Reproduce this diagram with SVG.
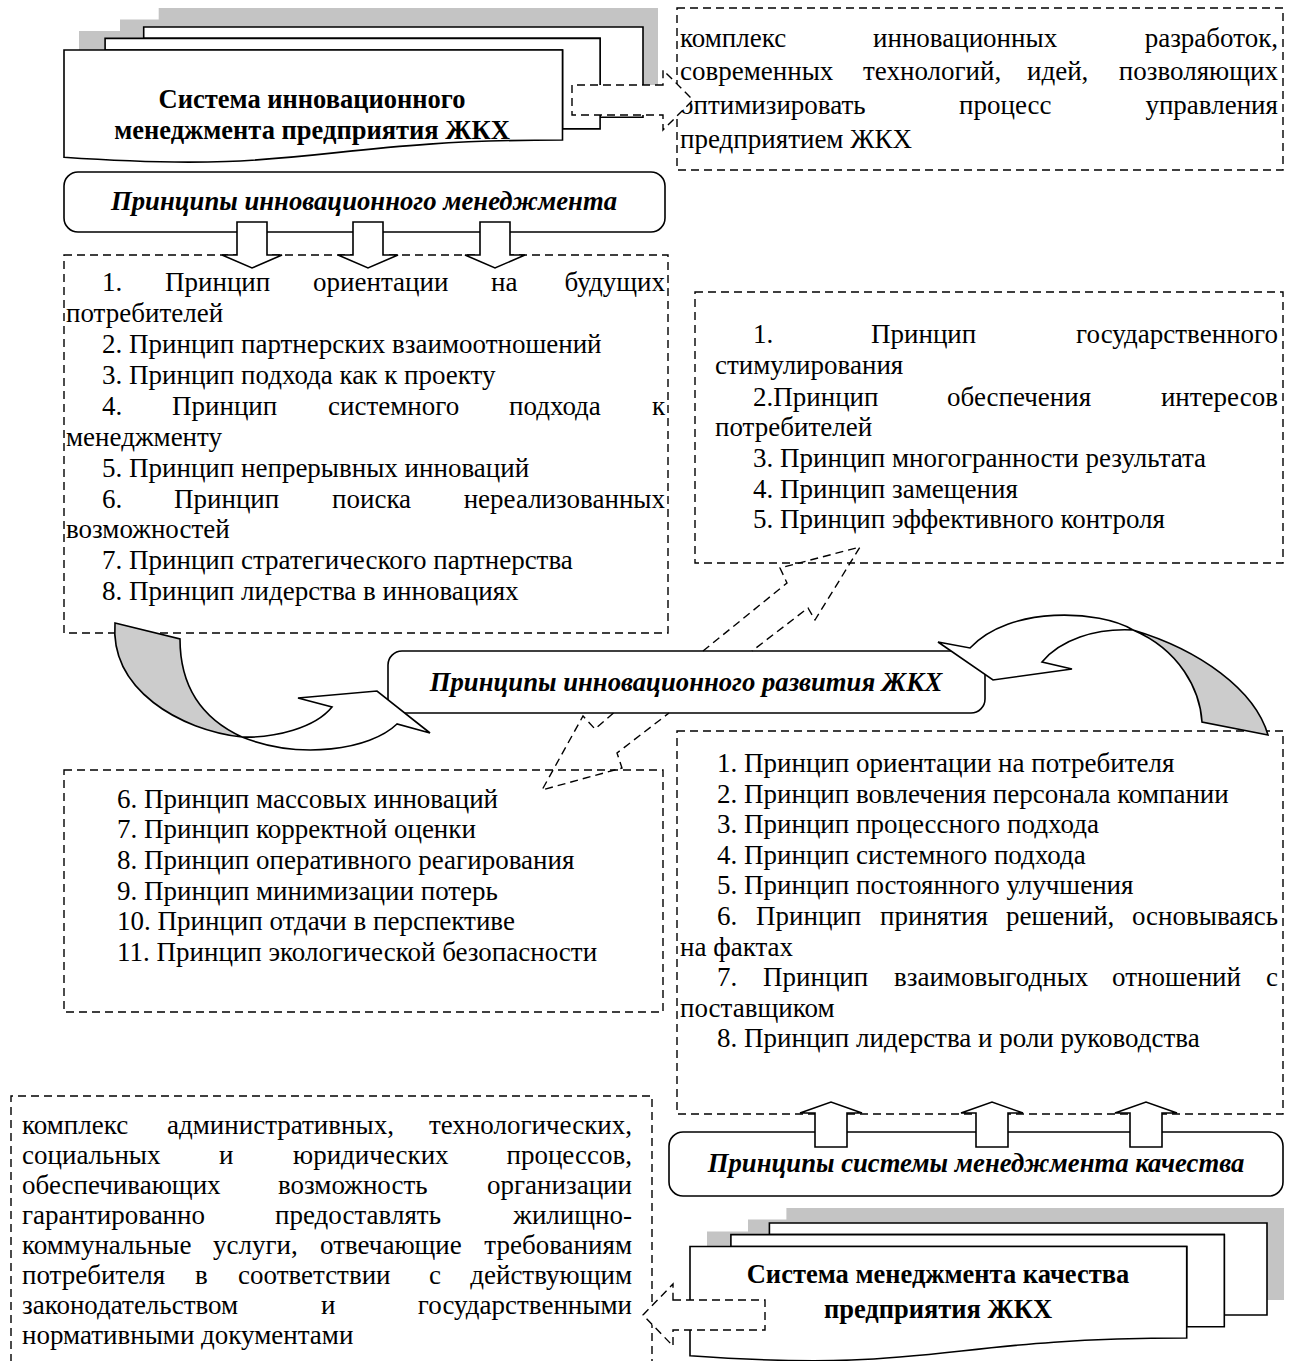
<svg xmlns="http://www.w3.org/2000/svg" width="1299" height="1361" viewBox="0 0 1299 1361">
<style>
.t{font-family:"Liberation Serif","Times New Roman",serif;font-size:27px;fill:#000}
.b{font-family:"Liberation Serif","Times New Roman",serif;font-size:26.5px;font-weight:bold;fill:#000}
.bi{font-family:"Liberation Serif","Times New Roman",serif;font-size:26.7px;font-weight:bold;font-style:italic;fill:#000}
.dash{fill:#fff;stroke:#000;stroke-width:1.4;stroke-dasharray:8 5}
.dashn{fill:none;stroke:#000;stroke-width:1.4;stroke-dasharray:8 5}
.sol{fill:#fff;stroke:#000;stroke-width:1.6}
.shadow{fill:#c4c4c4;stroke:none}
.gray{fill:#cccccc;stroke:#000;stroke-width:1.6}
</style>
<rect width="1299" height="1361" fill="#fff"/>

<g id="doc-innov">
<path class="shadow" d="M79,31 H120 V19.4 H158.7 V8 H658 V98 H615 V110 H577.5 V121 H79 Z"/>
<path class="sol" d="M143.7,38.4 V27 H643 V117.2 H600.1 V38.4 Z"/>
<path class="sol" d="M105.1,50 V38.4 H600.1 V128.9 H562.5 V50 Z"/>
<path class="sol" d="M64,50 H562.5 V140 C313.2,140 313.2,174.6 64,157.3 Z"/>
<text class="b" x="312" y="108" text-anchor="middle">Система инновационного</text>
<text class="b" x="312" y="139" text-anchor="middle">менеджмента предприятия ЖКХ</text>
</g>

<g id="def-innov">
<rect class="dash" x="677" y="8" width="606" height="162"/>
<text class="t" y="47"><tspan x="680">комплекс</tspan><tspan x="873">инновационных</tspan><tspan x="1278" text-anchor="end">разработок,</tspan></text>
<text class="t" y="80"><tspan x="680">современных</tspan><tspan x="863">технологий,</tspan><tspan x="1027">идей,</tspan><tspan x="1278" text-anchor="end">позволяющих</tspan></text>
<text class="t" y="114"><tspan x="680">оптимизировать</tspan><tspan x="959">процесс</tspan><tspan x="1278" text-anchor="end">управления</tspan></text>
<text class="t" x="680" y="148">предприятием ЖКХ</text>
</g>

<g id="title-im">
<rect class="sol" x="64" y="172" width="601" height="60" rx="14"/>
<text class="bi" x="364" y="210" text-anchor="middle">Принципы инновационного менеджмента</text>
</g>

<g id="list-im">
<rect class="dash" x="64" y="255" width="604" height="378"/>
<text class="t" y="291"><tspan x="102">1.</tspan><tspan x="165">Принцип</tspan><tspan x="313">ориентации</tspan><tspan x="491">на</tspan><tspan x="665" text-anchor="end">будущих</tspan></text>
<text class="t" x="66" y="322">потребителей</text>
<text class="t" x="102" y="353">2. Принцип партнерских взаимоотношений</text>
<text class="t" x="102" y="384">3. Принцип подхода как к проекту</text>
<text class="t" y="415"><tspan x="102">4.</tspan><tspan x="172">Принцип</tspan><tspan x="328">системного</tspan><tspan x="509">подхода</tspan><tspan x="665" text-anchor="end">к</tspan></text>
<text class="t" x="66" y="446">менеджменту</text>
<text class="t" x="102" y="477">5. Принцип непрерывных инноваций</text>
<text class="t" y="508"><tspan x="102">6.</tspan><tspan x="174">Принцип</tspan><tspan x="332">поиска</tspan><tspan x="665" text-anchor="end">нереализованных</tspan></text>
<text class="t" x="66" y="538">возможностей</text>
<text class="t" x="102" y="569">7. Принцип стратегического партнерства</text>
<text class="t" x="102" y="600">8. Принцип лидерства в инновациях</text>
</g>

<g id="list-state">
<rect class="dash" x="695" y="292" width="588" height="271"/>
<text class="t" y="343"><tspan x="753">1.</tspan><tspan x="871">Принцип</tspan><tspan x="1278" text-anchor="end">государственного</tspan></text>
<text class="t" x="715" y="374">стимулирования</text>
<text class="t" y="406"><tspan x="753">2.Принцип</tspan><tspan x="947">обеспечения</tspan><tspan x="1278" text-anchor="end">интересов</tspan></text>
<text class="t" x="715" y="436">потребителей</text>
<text class="t" x="753" y="467">3. Принцип многогранности результата</text>
<text class="t" x="753" y="498">4. Принцип замещения</text>
<text class="t" x="753" y="528">5. Принцип эффективного контроля</text>
</g>

<g id="title-dev">
<rect class="sol" x="388" y="651" width="597" height="62" rx="14"/>
<text class="bi" x="686" y="691" text-anchor="middle">Принципы инновационного развития ЖКХ</text>
</g>

<g id="list-dev">
<rect class="dash" x="64" y="770" width="599" height="242"/>
<text class="t" x="117" y="808">6. Принцип массовых инноваций</text>
<text class="t" x="117" y="838">7. Принцип корректной оценки</text>
<text class="t" x="117" y="869">8. Принцип оперативного реагирования</text>
<text class="t" x="117" y="900">9. Принцип минимизации потерь</text>
<text class="t" x="117" y="930">10. Принцип отдачи в перспективе</text>
<text class="t" x="117" y="961">11. Принцип экологической безопасности</text>
</g>

<g id="list-qms">
<rect class="dash" x="677" y="731" width="606" height="383"/>
<text class="t" x="717" y="772">1. Принцип ориентации на потребителя</text>
<text class="t" x="717" y="803">2. Принцип вовлечения персонала компании</text>
<text class="t" x="717" y="833">3. Принцип процессного подхода</text>
<text class="t" x="717" y="864">4. Принцип системного подхода</text>
<text class="t" x="717" y="894">5. Принцип постоянного улучшения</text>
<text class="t" y="925"><tspan x="717">6.</tspan><tspan x="756">Принцип</tspan><tspan x="880">принятия</tspan><tspan x="1006">решений,</tspan><tspan x="1278" text-anchor="end">основываясь</tspan></text>
<text class="t" x="680" y="956">на фактах</text>
<text class="t" y="986"><tspan x="717">7.</tspan><tspan x="763">Принцип</tspan><tspan x="894">взаимовыгодных</tspan><tspan x="1112">отношений</tspan><tspan x="1278" text-anchor="end">с</tspan></text>
<text class="t" x="680" y="1017">поставщиком</text>
<text class="t" x="717" y="1047">8. Принцип лидерства и роли руководства</text>
</g>

<g id="title-qms">
<rect class="sol" x="669" y="1132" width="614" height="64" rx="14"/>
<text class="bi" x="976" y="1172" text-anchor="middle">Принципы системы менеджмента качества</text>
</g>

<g id="def-qms">
<path class="dashn" d="M11,1375 V1096 H652 V1375"/>
<text class="t" y="1134"><tspan x="22">комплекс</tspan><tspan x="167">административных,</tspan><tspan x="632" text-anchor="end">технологических,</tspan></text>
<text class="t" y="1164"><tspan x="22">социальных</tspan><tspan x="219">и</tspan><tspan x="293">юридических</tspan><tspan x="632" text-anchor="end">процессов,</tspan></text>
<text class="t" y="1194"><tspan x="22">обеспечивающих</tspan><tspan x="278">возможность</tspan><tspan x="632" text-anchor="end">организации</tspan></text>
<text class="t" y="1224"><tspan x="22">гарантированно</tspan><tspan x="275">предоставлять</tspan><tspan x="632" text-anchor="end">жилищно-</tspan></text>
<text class="t" y="1254"><tspan x="22">коммунальные</tspan><tspan x="213">услуги,</tspan><tspan x="320">отвечающие</tspan><tspan x="632" text-anchor="end">требованиям</tspan></text>
<text class="t" y="1284"><tspan x="22">потребителя</tspan><tspan x="195">в</tspan><tspan x="238">соответствии</tspan><tspan x="429">с</tspan><tspan x="632" text-anchor="end">действующим</tspan></text>
<text class="t" y="1314"><tspan x="22">законодательством</tspan><tspan x="321">и</tspan><tspan x="632" text-anchor="end">государственными</tspan></text>
<text class="t" x="22" y="1344">нормативными документами</text>
</g>

<g id="doc-qms">
<path class="shadow" d="M707,1231.5 H748 V1219.6 H786.4 V1208 H1284 V1300 H1241.3 V1311.8 H1203.7 V1323 H707 Z"/>
<path class="sol" d="M769.4,1234.6 V1223 H1267 V1315 H1224.3 V1234.6 Z"/>
<path class="sol" d="M730.9,1246.5 V1234.6 H1224.3 V1326.8 H1186.7 V1246.5 Z"/>
<path class="sol" d="M690,1246.5 H1186.7 V1338 C938.4,1338 938.4,1373.4 690,1355.8 Z"/>
<text class="b" x="938" y="1283" text-anchor="middle">Система менеджмента качества</text>
<text class="b" x="938" y="1318" text-anchor="middle">предприятия ЖКХ</text>
</g>

<g id="connectors">
<path class="sol" d="M237,222 H267 V255 H282 L252,268 L222,255 H237 Z"/>
<path class="sol" d="M353,222 H383 V255 H398 L368,268 L338,255 H353 Z"/>
<path class="sol" d="M480,222 H510 V255 H525 L495,268 L465,255 H480 Z"/>
<path class="sol" d="M815,1147 V1113 H800 L831,1102 L862,1113 H847 V1147 Z"/>
<path class="sol" d="M976,1147 V1113 H961 L992,1102 L1023,1113 H1008 V1147 Z"/>
<path class="sol" d="M1130,1147 V1113 H1115 L1146,1102 L1177,1113 H1162 V1147 Z"/>
<path class="dash" d="M663,85 H572 V115 H663 V130 L693,100 L663,70 Z"/>
<path class="dash" d="M673,1300 H765 V1330 H673 V1346 L643,1315 L673,1284 Z"/>
<path class="dashn" d="M703,651 L787,583 L780,568 L860,547 L815,620 L808,608 L752,651"/>
<path class="dashn" d="M613.5,713 L595,729 L583,716 L542,790 L622,768 L617,753 L669,713"/>
<path class="gray" d="M115,623 L180,639 C180,690 205,720 242,737 C180,730 110,690 115,623 Z"/>
<path class="sol" d="M242,737 C275,738 315,728 332,707 L298,698 L377,691 L430,733 L397,724 C370,750 300,760 242,737 Z"/>
<path class="sol" d="M1133,630 C1100,610 1010,605 970,648 L938,642 L993,680 L1072,669 L1042,662 C1060,640 1095,628 1133,630 Z"/>
<path class="gray" d="M1133,630 C1200,650 1255,690 1268,735 L1202,722 C1200,690 1180,650 1133,630 Z"/>
</g>
</svg>
